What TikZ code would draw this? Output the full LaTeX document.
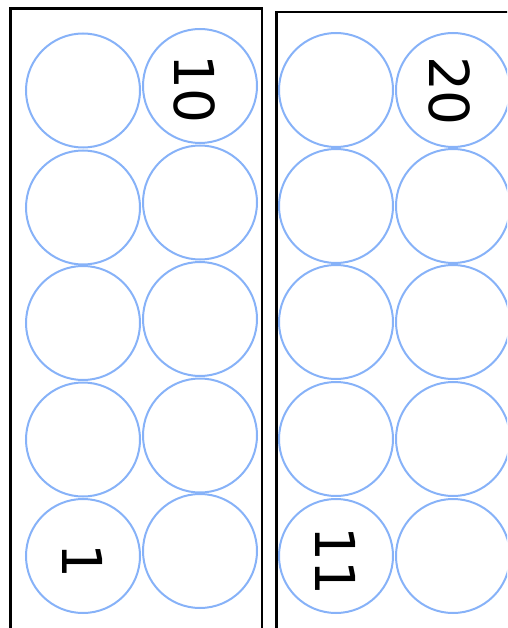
\documentclass[tikz,border=0pt]{standalone}
\usepackage{fontspec}
\setmainfont{DejaVu Sans}
\usepackage{tikz}

\definecolor{ringblue}{RGB}{135,178,248}

\begin{document}
\begin{tikzpicture}[
  x=1pt, y=-1pt,
  ring/.style={circle, draw=ringblue, line width=2pt, minimum size=114pt, inner sep=0pt},
  num/.style={rotate=-90, inner sep=0pt, font=\fontsize{55}{60}\selectfont},
  frame/.style={draw=black, line width=2.2pt},
]

\useasboundingbox (0,0) rectangle (507,628);
\clip (0,0) rectangle (507,628);

% left sheet
\draw[frame] (10.5,8.5) rectangle (262,640);

\node[ring] (l1a) at (83,90.5)  {};
\node[ring] (l1b) at (200,86)   {};
\node[ring] (l2a) at (83,207.5) {};
\node[ring] (l2b) at (200,202.5) {};
\node[ring] (l3a) at (83,323)   {};
\node[ring] (l3b) at (200,319)  {};
\node[ring] (l4a) at (83,439.5) {};
\node[ring] (l4b) at (200,435.5) {};
\node[ring] (l5a) at (83,556)   {};
\node[ring] (l5b) at (200,551)  {};

\node[num] (n10) at (195,89)  {10};
\node[num] (n1)  at (83,561)  {1};

% right sheet
\draw[frame] (276.5,12) rectangle (520,640);

\node[ring] (r1a) at (336,90)  {};
\node[ring] (r1b) at (453,90)  {};
\node[ring] (r2a) at (336,206) {};
\node[ring] (r2b) at (453,206) {};
\node[ring] (r3a) at (336,322) {};
\node[ring] (r3b) at (453,322) {};
\node[ring] (r4a) at (336,439) {};
\node[ring] (r4b) at (453,439) {};
\node[ring] (r5a) at (336,556) {};
\node[ring] (r5b) at (453,556) {};

\node[num] (n20) at (450,91)  {20};
\node[num] (n11) at (336,561) {11};

\end{tikzpicture}
\end{document}
